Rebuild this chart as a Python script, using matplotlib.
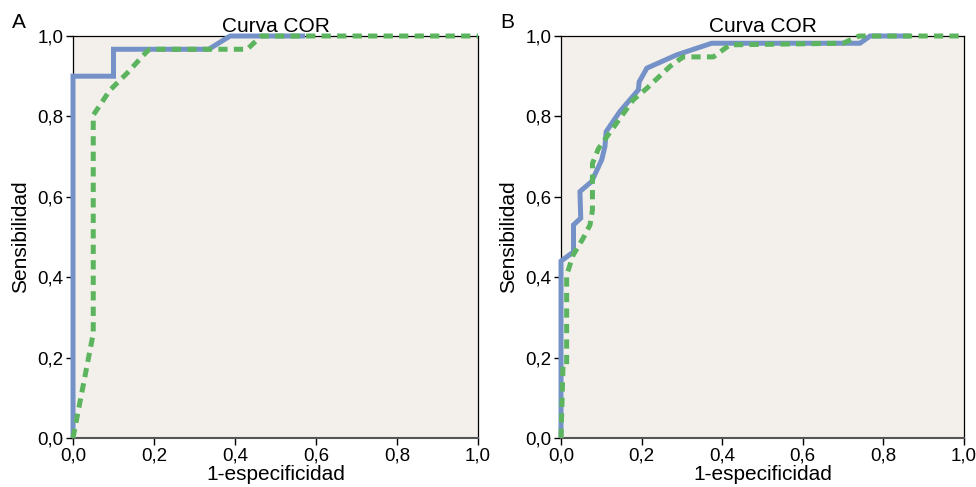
import numpy as np
import matplotlib
matplotlib.use("Agg")
import matplotlib.pyplot as plt
from matplotlib.ticker import FuncFormatter

plt.rcParams['font.family'] = ['Liberation Sans', 'DejaVu Sans']

# Panel A - curva COR
a_blue_x = [0.0, 0.0, 0.10, 0.10, 0.335, 0.388, 0.573]
a_blue_y = [0.0, 0.90, 0.90, 0.967, 0.967, 1.0, 1.0]
a_green_x = [0.0, 0.05, 0.05, 0.091, 0.133, 0.182, 0.19, 0.43, 0.465, 1.0]
a_green_y = [0.0, 0.26, 0.803, 0.865, 0.907, 0.961, 0.967, 0.967, 1.0, 1.0]

# Panel B - curva COR
b_blue_x = [0.0, 0.0, 0.031, 0.031, 0.049, 0.047, 0.076, 0.101, 0.109, 0.112,
            0.146, 0.192, 0.194, 0.213, 0.287, 0.374, 0.742, 0.767, 0.866]
b_blue_y = [0.0, 0.44, 0.463, 0.53, 0.547, 0.613, 0.638, 0.692, 0.725, 0.762,
            0.812, 0.866, 0.886, 0.920, 0.953, 0.982, 0.982, 1.0, 1.0]
b_green_x = [0.0, 0.005, 0.014, 0.014, 0.03, 0.055, 0.072, 0.078, 0.078, 0.093,
             0.117, 0.179, 0.213, 0.27, 0.303, 0.378, 0.419, 0.70, 0.74, 1.0]
b_green_y = [0.0, 0.18, 0.18, 0.405, 0.455, 0.497, 0.53, 0.567, 0.683, 0.72,
             0.754, 0.841, 0.87, 0.924, 0.948, 0.948, 0.978, 0.982, 1.0, 1.0]

ticks = [0.0, 0.2, 0.4, 0.6, 0.8, 1.0]

blue = '#7592c8'
green = '#5cb55e'
bg = '#f3f0eb'

fig = plt.figure(figsize=(9.76, 4.87), dpi=100)
ax_a = fig.add_axes([73 / 976, 49 / 487, 405 / 976, 402 / 487])
ax_b = fig.add_axes([561 / 976, 49 / 487, 403 / 976, 402 / 487])

coma = FuncFormatter(lambda v, p: f"{v:.1f}".replace('.', ','))

panels = [(ax_a, a_blue_x, a_blue_y, a_green_x, a_green_y, 'A'),
          (ax_b, b_blue_x, b_blue_y, b_green_x, b_green_y, 'B')]

for ax, bx, by, gx, gy, letra in panels:
    ax.set_facecolor(bg)
    ax.plot(bx, by, color=blue, lw=3.6, solid_joinstyle='miter',
            solid_capstyle='butt', zorder=3, clip_on=False)
    ax.plot(gx, gy, color=green, lw=3.6, dashes=(1.85, 1.25),
            dash_capstyle='butt', zorder=4, clip_on=False)
    ax.set_xlim(0, 1)
    ax.set_ylim(0, 1)
    ax.set_xticks(ticks)
    ax.set_yticks(ticks)
    ax.xaxis.set_major_formatter(coma)
    ax.yaxis.set_major_formatter(coma)
    ax.tick_params(direction='out', length=5, width=1, labelsize=13.5, pad=2)
    for s in ax.spines.values():
        s.set_linewidth(0.9)
        s.set_color('black')
        s.set_zorder(2)
    ax.spines['bottom'].set_color('#555555')
    ax.spines['bottom'].set_linewidth(1.5)
    ax.set_xlabel('1-especificidad', fontsize=15, labelpad=0)
    ax.set_ylabel('Sensibilidad', fontsize=15, labelpad=5)
    ax.set_title('Curva COR', fontsize=15, pad=3)
    ax.text(-0.15, 1.01, letra, transform=ax.transAxes, fontsize=15,
            ha='left', va='bottom')

fig.savefig('out.png', dpi=100)
